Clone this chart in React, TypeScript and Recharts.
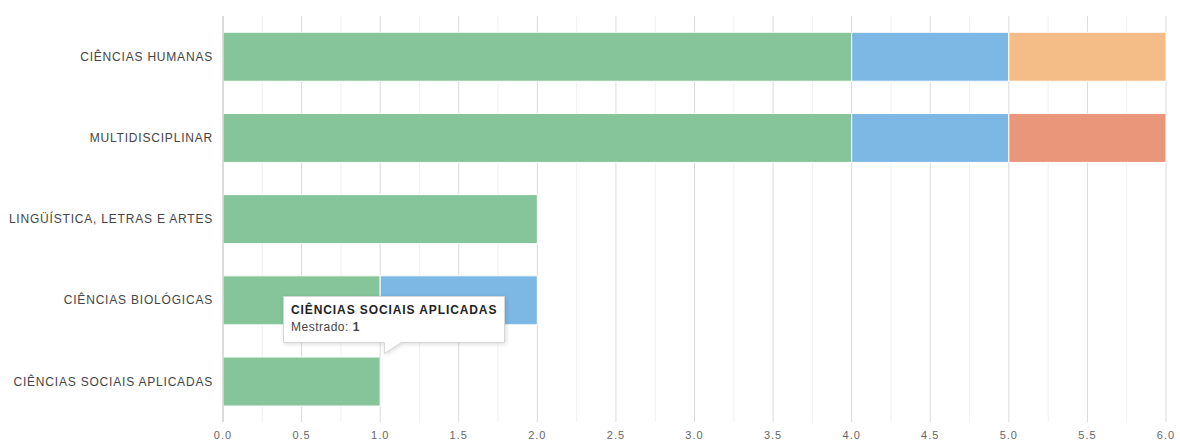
import React from 'react';
import { BarChart, Bar, XAxis, YAxis, CartesianGrid, Tooltip } from 'recharts';

const categories = [
  'CIÊNCIAS HUMANAS',
  'MULTIDISCIPLINAR',
  'LINGÜÍSTICA, LETRAS E ARTES',
  'CIÊNCIAS BIOLÓGICAS',
  'CIÊNCIAS SOCIAIS APLICADAS',
];
const mestrado = [4, 4, 2, 1, 1];
const doutorado = [1, 1, 0, 1, 0];
const mestradoProfissional = [1, 0, 0, 0, 0];
const doutoradoProfissional = [0, 1, 0, 0, 0];

const xTicks = [0, 0.5, 1, 1.5, 2, 2.5, 3, 3.5, 4, 4.5, 5, 5.5, 6];
const minorTicks = [0.25, 0.75, 1.25, 1.75, 2.25, 2.75, 3.25, 3.75, 4.25, 4.75, 5.25, 5.75];

const tooltipIndex = 4;

const data = categories.map((c, i) => ({
  name: c,
  mestrado: mestrado[i],
  doutorado: doutorado[i],
  mestradoProfissional: mestradoProfissional[i],
  doutoradoProfissional: doutoradoProfissional[i],
}));

const FONT = '"Liberation Sans", Arial, Helvetica, sans-serif';

const TipContent = () => {
  const row = data[tooltipIndex];
  return (
    <div style={{ position: 'relative', width: 222, height: 58, fontFamily: FONT }}>
      <svg width={222} height={58} style={{ position: 'absolute', left: 0, top: 0, overflow: 'visible' }}>
        <path
          d="M0.5 0.5 H221.5 V46.5 H118.5 L101.5 57.5 L101.5 46.5 H0.5 Z"
          fill="#ffffff"
          stroke="#d6d6d6"
          strokeWidth={1}
          style={{ filter: 'drop-shadow(1px 1px 2px rgba(0,0,0,0.15))' }}
        />
      </svg>
      <div style={{ position: 'absolute', left: 8, top: 7, fontSize: 12, fontWeight: 'bold', color: '#222', whiteSpace: 'nowrap', letterSpacing: 0.9 }}>
        {row.name}
      </div>
      <div style={{ position: 'absolute', left: 8, top: 24, fontSize: 12, color: '#444', whiteSpace: 'nowrap', letterSpacing: 0.5 }}>
        Mestrado: <b>{row.mestrado}</b>
      </div>
    </div>
  );
};

const YTick = (props: any) => {
  const { x, y, payload } = props;
  return (
    <text x={x} y={y} dy="0.35em" textAnchor="end" fill="#444" fontSize={12} fontFamily={FONT} letterSpacing={0.8}>
      {payload.value}
    </text>
  );
};

export default function App() {
  return (
    <div style={{ position: 'absolute', left: 0, top: 0, width: 1180, height: 442, background: '#fff' }}>
      <BarChart
        width={1180}
        height={442}
        data={data}
        layout="vertical"
        margin={{ top: 16, right: 14, bottom: 0, left: 0 }}
        barCategoryGap="20%"
      >
        <CartesianGrid horizontal={false} stroke="#f0f0f0" verticalValues={minorTicks} />
        <CartesianGrid horizontal={false} stroke="#dadada" verticalValues={xTicks} />
        <XAxis
          type="number"
          domain={[0, 6]}
          ticks={xTicks}
          tickFormatter={(v: number) => v.toFixed(1)}
          axisLine={false}
          tickLine={false}
          tickSize={0}
          tickMargin={9}
          height={20}
          tick={{ fill: '#666', fontSize: 11, fontFamily: FONT, letterSpacing: 1 }}
          interval={0}
        />
        <YAxis
          type="category"
          dataKey="name"
          width={223}
          axisLine={{ stroke: '#c8c8c8' }}
          tickLine={false}
          tickSize={0}
          tickMargin={10}
          tick={<YTick />}
          interval={0}
        />
        <Bar dataKey="mestrado" name="Mestrado" stackId="a" fill="#86C49A" stroke="#ffffff" strokeWidth={1} isAnimationActive={false} />
        <Bar dataKey="doutorado" name="Doutorado" stackId="a" fill="#7DB8E5" stroke="#ffffff" strokeWidth={1} isAnimationActive={false} />
        <Bar dataKey="mestradoProfissional" name="Mestrado Profissional" stackId="a" fill="#F4BC87" stroke="#ffffff" strokeWidth={1} isAnimationActive={false} />
        <Bar dataKey="doutoradoProfissional" name="Doutorado Profissional" stackId="a" fill="#EA967A" stroke="#ffffff" strokeWidth={1} isAnimationActive={false} />
        <Tooltip
          active={true}
          defaultIndex={tooltipIndex}
          cursor={false}
          isAnimationActive={false}
          position={{ x: 283, y: 296 }}
          content={<TipContent />}
          wrapperStyle={{ outline: 'none' }}
        />
      </BarChart>
    </div>
  );
}
